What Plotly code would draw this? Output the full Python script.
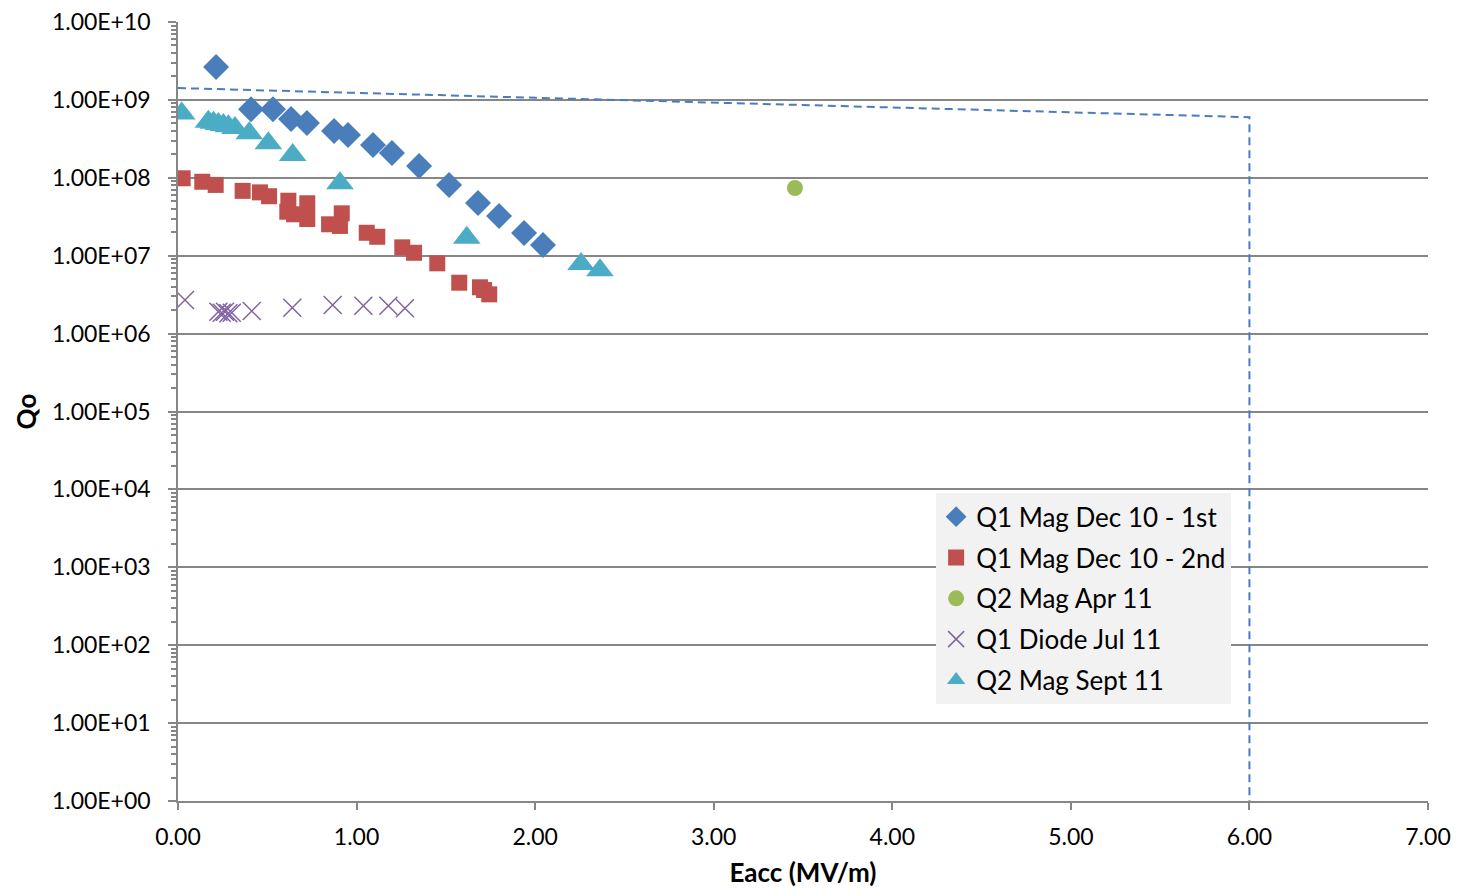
import plotly.graph_objects as go

# Q1 Mag Dec 10 - 1st
q1_1st_x = [0.213, 0.409, 0.532, 0.633, 0.722, 0.874, 0.952, 1.092, 1.198, 1.350, 1.518, 1.680, 1.798, 1.938, 2.044]
q1_1st_y = [2.64e9, 7.6e8, 7.6e8, 5.7e8, 5.06e8, 3.99e8, 3.54e8, 2.64e8, 2.08e8, 1.42e8, 8.1e7, 4.75e7, 3.23e7, 1.96e7, 1.37e7]

# Q1 Mag Dec 10 - 2nd
q1_2nd_x = [0.026, 0.136, 0.211, 0.362, 0.459, 0.510, 0.618, 0.612, 0.650, 0.724, 0.724, 0.846, 0.907, 0.917,
            1.057, 1.116, 1.256, 1.322, 1.452, 1.575, 1.691, 1.714, 1.743]
q1_2nd_y = [9.86e7, 8.9e7, 8.1e7, 6.8e7, 6.5e7, 5.8e7, 5.08e7, 3.67e7, 3.40e7, 4.71e7, 2.96e7, 2.53e7, 2.41e7, 3.50e7,
            1.97e7, 1.75e7, 1.28e7, 1.09e7, 7.98e6, 4.5e6, 3.93e6, 3.63e6, 3.19e6]

# Q2 Mag Apr 11
q2_apr_x = [3.455]
q2_apr_y = [7.4e7]

# Q1 Diode Jul 11
q1_diode_x = [0.039, 0.226, 0.245, 0.263, 0.282, 0.301, 0.413, 0.640, 0.866, 1.038, 1.178, 1.271]
q1_diode_y = [2.70e6, 1.91e6, 1.85e6, 1.91e6, 1.82e6, 1.85e6, 1.95e6, 2.15e6, 2.33e6, 2.28e6, 2.28e6, 2.11e6]

# Q2 Mag Sept 11
q2_sept_x = [0.021, 0.170, 0.198, 0.226, 0.254, 0.282, 0.319, 0.399, 0.506, 0.642, 0.907, 1.617, 2.257, 2.363]
q2_sept_y = [6.7e8, 5.25e8, 5.1e8, 4.9e8, 4.76e8, 4.6e8, 4.36e8, 3.72e8, 2.77e8, 1.96e8, 8.5e7, 1.70e7, 7.8e6, 6.5e6]

# Spec / limit dashed line
spec_x = [0.0, 6.0, 6.0]
spec_y = [1.42e9, 6.0e8, 1.0]

y_tick_vals = [10 ** k for k in range(0, 11)]
y_tick_text = ["1.00E+%02d" % k for k in range(0, 11)]
x_tick_vals = [0, 1, 2, 3, 4, 5, 6, 7]
x_tick_text = ["%.2f" % v for v in x_tick_vals]

FONT = "Lato, 'Open Sans', sans-serif"
AXC = "#868686"

fig = go.Figure()

fig.add_trace(go.Scatter(x=spec_x, y=spec_y, mode="lines", showlegend=False,
                         line=dict(color="#4a7ebb", width=2, dash="8px,5px"), hoverinfo="skip"))

fig.add_trace(go.Scatter(x=q1_1st_x, y=q1_1st_y, mode="markers", name="Q1 Mag Dec 10 - 1st", legendgroup="a",
                         marker=dict(symbol="diamond", size=20, color="#4a7ebb")))
fig.add_trace(go.Scatter(x=q1_2nd_x, y=q1_2nd_y, mode="markers", name="Q1 Mag Dec 10 - 2nd", legendgroup="b",
                         marker=dict(symbol="square", size=16, color="#c0504d")))
fig.add_trace(go.Scatter(x=q2_apr_x, y=q2_apr_y, mode="markers", name="Q2 Mag Apr 11", legendgroup="c",
                         marker=dict(symbol="circle", size=16, color="#9bbb59")))
fig.add_trace(go.Scatter(x=q1_diode_x, y=q1_diode_y, mode="markers", name="Q1 Diode Jul 11", legendgroup="d",
                         marker=dict(symbol="x-thin-open", size=18, color="#8064a2",
                                     line=dict(color="#8064a2", width=1.5))))
fig.add_trace(go.Scatter(x=q2_sept_x, y=q2_sept_y, mode="markers", name="Q2 Mag Sept 11", legendgroup="e",
                         marker=dict(symbol="triangle-up", size=24, color="#4bacc6")))

fig.update_layout(
    width=1458, height=889,
    margin=dict(l=178, r=30, t=22, b=88, autoexpand=False),
    paper_bgcolor="white", plot_bgcolor="white",
    font=dict(family=FONT, size=23, color="black"),
    showlegend=True,
    legend=dict(x=0.6065, y=0.395, xanchor="left", yanchor="top",
                bgcolor="#f2f2f2", font=dict(size=26, family=FONT),
                traceorder="grouped", tracegroupgap=4, itemsizing="trace",
                borderwidth=0),
    xaxis=dict(range=[0, 7], tickvals=x_tick_vals, ticktext=x_tick_text, automargin=False,
               showgrid=False, zeroline=False, showline=True, linecolor=AXC, linewidth=1.5,
               ticks="outside", ticklen=7, tickcolor=AXC, tickwidth=1.5,
               ticklabelstandoff=8,
               title=dict(text="<b>Eacc (MV/m)</b>", font=dict(size=26, family=FONT), standoff=14)),
    yaxis=dict(type="log", range=[0, 10], tickvals=y_tick_vals, ticktext=y_tick_text, automargin=False,
               showgrid=True, gridcolor=AXC, gridwidth=1.5, zeroline=False,
               showline=True, linecolor=AXC, linewidth=1.5,
               ticks="outside", ticklen=8, tickcolor=AXC, tickwidth=1.5,
               ticklabelstandoff=13,
               minor=dict(ticks="outside", ticklen=5, tickcolor=AXC, dtick="D1", showgrid=False),
               title=dict(text="<b>Qo</b>", font=dict(size=26, family=FONT), standoff=8)),
)

fig.write_html("out.html", config={"displayModeBar": False},
               post_script="document.body.style.margin='0';")
